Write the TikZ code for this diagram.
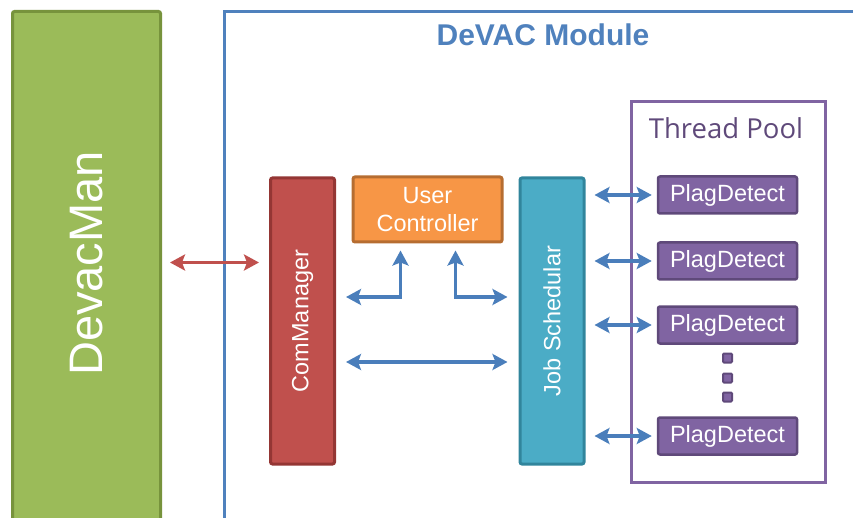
\documentclass[tikz,border=0pt]{standalone}
\usepackage{fontspec}
\setmainfont{Liberation Sans}
\newfontfamily\poolfont{Open Sans}
\usetikzlibrary{arrows.meta,positioning}
\definecolor{devgreen}{HTML}{9BBB59}
\definecolor{devgreendark}{HTML}{77933C}
\definecolor{modblue}{HTML}{4F81BD}
\definecolor{arrowblue}{HTML}{4A7EBB}
\definecolor{comred}{HTML}{C0504D}
\definecolor{comreddark}{HTML}{943634}
\definecolor{ucorange}{HTML}{F79646}
\definecolor{ucorangedark}{HTML}{B66D31}
\definecolor{jobteal}{HTML}{4BACC6}
\definecolor{jobtealdark}{HTML}{31859C}
\definecolor{poolpurple}{HTML}{8064A2}
\definecolor{poolpurpledark}{HTML}{5F497A}
\tikzset{
  block/.style={
    rectangle,
    rounded corners=2pt,
    line width=3pt,
    text=white,
    align=center,
    inner sep=0pt,
    font=\fontsize{23.5}{28}\selectfont
  },
  comblock/.style={block, draw=comreddark, fill=comred, minimum width=64, minimum height=286},
  jobblock/.style={block, draw=jobtealdark, fill=jobteal, minimum width=64, minimum height=286},
  ucblock/.style={block, draw=ucorangedark, fill=ucorange, minimum width=149, minimum height=65},
  worker/.style={block, line width=2.5pt, draw=poolpurpledark, fill=poolpurple, minimum width=139, minimum height=37},
  dotbox/.style={rectangle, rounded corners=1pt, line width=2pt, draw=poolpurpledark, fill=poolpurple, minimum size=9, inner sep=0pt},
  frame/.style={rectangle, line width=3pt, inner sep=0pt},
  bluearrow/.style={{Stealth[length=15pt,width=16pt,inset=3pt]}-{Stealth[length=15pt,width=16pt,inset=3pt]}, line width=3.8pt, draw=arrowblue},
  redarrow/.style={{Stealth[length=15pt,width=16pt,inset=3pt]}-{Stealth[length=15pt,width=16pt,inset=3pt]}, line width=3.8pt, draw=comred}
}
\begin{document}
\begin{tikzpicture}[x=1pt, y=-1pt]
  \useasboundingbox (0,0) rectangle (853,518);

  % outer parts
  \node[block, draw=devgreendark, fill=devgreen, minimum width=148, minimum height=520, anchor=north west,
        font=\fontsize{47}{52}\selectfont] (devacman) at (11,10) {\rotatebox{90}{\hspace{16pt}DevacMan}};
  \node[frame, draw=modblue, minimum width=650, minimum height=530, anchor=north west] (module) at (223,10) {};
  \node[font=\bfseries\fontsize{30}{34}\selectfont, text=modblue] (modtitle) at (543,35) {DeVAC Module};

  % module blocks
  \node[comblock] (commgr) at (302.5,321) {\rotatebox{90}{ComManager}};
  \node[ucblock] (uc) at (427.5,209.5) {User\\Controller};
  \node[jobblock] (jobs) at (552,321) {\rotatebox{90}{Job Schedular}};

  % thread pool
  \node[frame, draw=poolpurple, minimum width=194, minimum height=380] (pool) at (728,292) {};
  \node[font=\poolfont\fontsize{27.5}{32}\selectfont, text=poolpurpledark] (pooltitle) at (726,128) {Thread Pool};
  \node[worker] (pd1) at (727.5,195) {PlagDetect};
  \node[worker] (pd2) at (727.5,261) {PlagDetect};
  \node[worker] (pd3) at (727.5,325) {PlagDetect};
  \node[worker] (pd4) at (727.5,436) {PlagDetect};
  \foreach \y [count=\i] in {358,378,397}
    \node[dotbox] (dot\i) at (727.5,\y) {};

  % connectors
  \coordinate (devout) at ([xshift=8pt,yshift=9pt]devacman.east);
  \draw[redarrow, shorten >=10pt] (devout) -- (devout -| commgr.west);
  \draw[bluearrow, shorten <=10pt, shorten >=7pt] (commgr.east |- 0,297) -| ([xshift=-27pt]uc.south);
  \draw[bluearrow, shorten <=7pt, shorten >=11pt] ([xshift=28pt]uc.south) |- (jobs.west |- 0,297);
  \draw[bluearrow, shorten <=10pt, shorten >=11pt] (commgr.east |- 0,362) -- (jobs.west |- 0,362);
  \foreach \p in {pd1,pd2,pd3,pd4}
    \draw[bluearrow, shorten <=9pt, shorten >=5pt] (jobs.east |- \p.west) -- (\p.west);
\end{tikzpicture}
\end{document}
